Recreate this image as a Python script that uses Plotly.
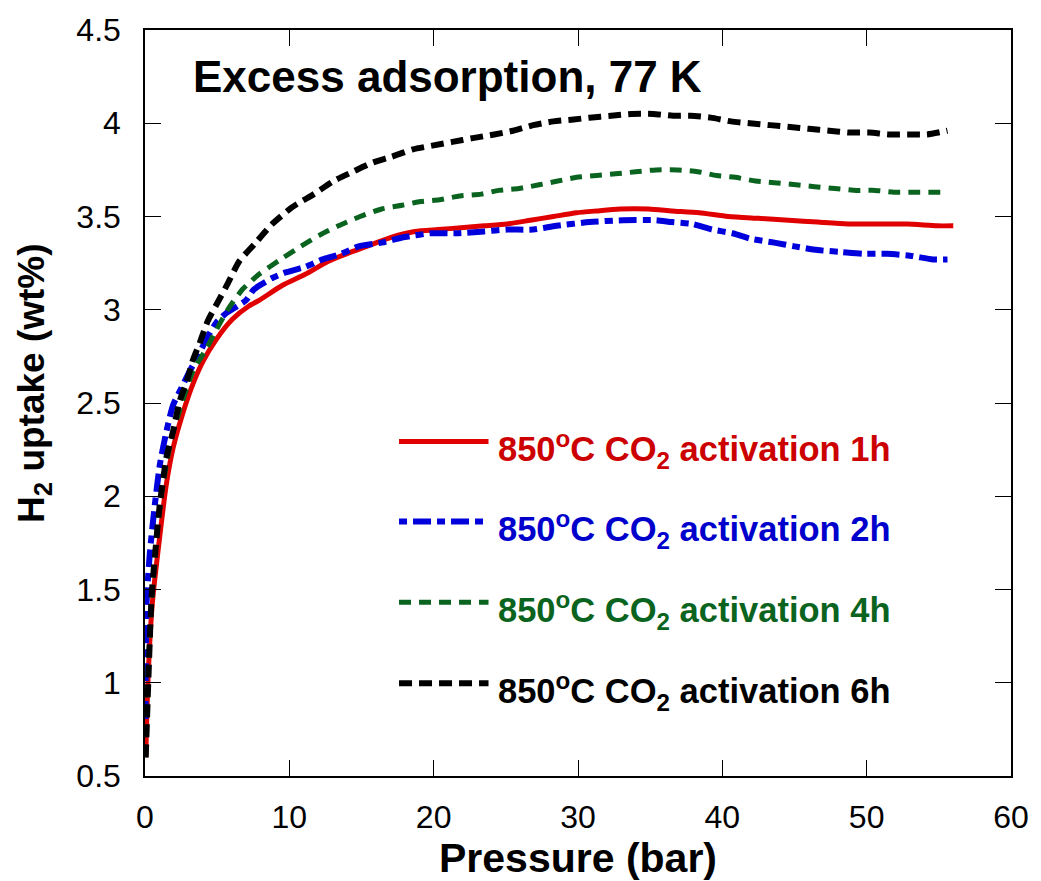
import plotly.graph_objects as go

# ---- data ----
x_1h = [0.05, 0.2, 0.5, 1.03, 1.49, 1.95, 2.52, 3.21, 4.0, 4.93, 6.07, 7.2, 7.9, 9.5, 11.1, 12.7, 14.3, 15.7,
        17.1, 18.7, 20.3, 21.9, 23.5, 25.1, 26.7, 28.3, 29.9, 31.3, 32.9, 34.9, 36.5, 38.4, 40.4, 42.5, 44.6,
        46.6, 48.7, 50.7, 52.8, 54.9, 56.0]
y_1h = [0.6, 1.0, 1.42, 1.79, 2.07, 2.26, 2.42, 2.58, 2.72, 2.84, 2.95, 3.02, 3.05, 3.13, 3.19, 3.26, 3.31, 3.35,
        3.39, 3.42, 3.43, 3.44, 3.45, 3.46, 3.48, 3.50, 3.52, 3.53, 3.54, 3.54, 3.53, 3.52, 3.50, 3.49, 3.48,
        3.47, 3.46, 3.46, 3.46, 3.45, 3.45]

x_2h = [0.02, 0.05, 0.11, 0.34, 0.69, 1.03, 1.49, 1.95, 2.52, 3.09, 3.66, 4.24, 4.93, 5.6, 6.99, 7.56, 8.82, 9.74,
        11.1, 12.3, 13.6, 14.8, 16.4, 18.0, 19.8, 21.6, 23.5, 25.1, 26.9, 28.5, 30.8, 33.1, 35.4, 36.5, 37.9,
        39.3, 40.7, 42.0, 43.6, 45.0, 46.6, 48.2, 49.8, 51.4, 53.0, 54.6, 55.6]
y_2h = [0.73, 1.08, 1.43, 1.70, 1.96, 2.17, 2.35, 2.49, 2.58, 2.67, 2.75, 2.84, 2.93, 2.98, 3.05, 3.11, 3.17, 3.20,
        3.23, 3.27, 3.30, 3.34, 3.36, 3.39, 3.41, 3.41, 3.42, 3.43, 3.43, 3.45, 3.47, 3.48, 3.48, 3.47, 3.46,
        3.43, 3.41, 3.38, 3.36, 3.34, 3.32, 3.31, 3.30, 3.30, 3.29, 3.27, 3.27]

x_4h = [0.03, 0.23, 0.46, 0.8, 1.26, 1.83, 2.52, 3.32, 4.24, 4.93, 5.73, 6.76, 7.9, 9.4, 10.8, 12.1, 13.4, 14.9,
        16.4, 17.8, 19.1, 20.4, 21.8, 23.3, 24.5, 25.9, 27.3, 28.6, 29.9, 31.3, 32.8, 34.0, 35.4, 36.9, 38.3,
        39.6, 40.9, 42.3, 43.8, 45.1, 46.4, 47.8, 49.3, 50.6, 51.9, 53.3, 54.6, 55.1]
y_4h = [0.6, 1.08, 1.43, 1.79, 2.07, 2.31, 2.49, 2.67, 2.79, 2.89, 3.0, 3.11, 3.19, 3.27, 3.34, 3.40, 3.45, 3.50,
        3.54, 3.56, 3.58, 3.59, 3.61, 3.62, 3.64, 3.65, 3.67, 3.69, 3.71, 3.72, 3.73, 3.74, 3.75, 3.75, 3.74,
        3.72, 3.71, 3.69, 3.68, 3.67, 3.66, 3.65, 3.64, 3.64, 3.63, 3.63, 3.63, 3.63]

x_6h = [0.05, 0.23, 0.46, 0.69, 1.03, 1.49, 1.95, 2.4, 2.87, 3.32, 3.78, 4.35, 5.04, 5.73, 6.53, 7.68, 8.82, 10.2,
        11.7, 13.06, 14.4, 15.8, 17.07, 18.56, 19.9, 21.3, 22.7, 24.2, 25.5, 26.9, 28.3, 29.7, 30.8, 32.3, 33.7,
        35.2, 36.6, 37.8, 39.2, 40.6, 41.9, 43.3, 44.7, 46.0, 47.4, 48.8, 50.2, 51.5, 52.9, 54.2, 55.6]
y_6h = [0.60, 1.01, 1.47, 1.68, 1.96, 2.21, 2.35, 2.51, 2.61, 2.73, 2.82, 2.94, 3.04, 3.14, 3.26, 3.36, 3.46, 3.55,
        3.62, 3.69, 3.74, 3.79, 3.82, 3.86, 3.88, 3.90, 3.92, 3.94, 3.96, 3.99, 4.01, 4.02, 4.03, 4.04, 4.05,
        4.05, 4.04, 4.04, 4.03, 4.01, 4.00, 3.99, 3.98, 3.97, 3.96, 3.95, 3.95, 3.94, 3.94, 3.94, 3.96]

labels = ["850<sup>o</sup>C CO<sub>2</sub> activation 1h",
          "850<sup>o</sup>C CO<sub>2</sub> activation 2h",
          "850<sup>o</sup>C CO<sub>2</sub> activation 4h",
          "850<sup>o</sup>C CO<sub>2</sub> activation 6h"]

x_ticks = [0, 10, 20, 30, 40, 50, 60]
y_ticks = [0.5, 1, 1.5, 2, 2.5, 3, 3.5, 4, 4.5]
y_tick_text = ["0.5", "1", "1.5", "2", "2.5", "3", "3.5", "4", "4.5"]

# ---- styles ----
FONT = "Liberation Sans, Arial, sans-serif"
line_colors = ["#e00000", "#0000dd", "#0a6420", "#000000"]
text_colors = ["#cc0000", "#0000cc", "#0a6420", "#000000"]
dashes = ["solid", "8px,6px,18px,6px", "12px,8px", "13px,7px"]
widths = [5, 6, 5, 6]

series = [(x_1h, y_1h), (x_2h, y_2h), (x_4h, y_4h), (x_6h, y_6h)]

fig = go.Figure()
for (xs, ys), c, d, w, name in zip(series, line_colors, dashes, widths, labels):
    fig.add_trace(go.Scatter(x=xs, y=ys, mode="lines", name=name, showlegend=False,
                             line=dict(color=c, dash=d, width=w, shape="spline", smoothing=0.6)))

# custom legend (line samples + labels) in data coordinates
leg_y = [2.294, 1.865, 1.431, 0.997]
leg_x0, leg_x1, leg_tx = 17.6, 23.8, 24.3
for i in range(4):
    fig.add_shape(type="line", xref="x", yref="y", x0=leg_x0, x1=leg_x1, y0=leg_y[i], y1=leg_y[i],
                  line=dict(color=line_colors[i], width=widths[i], dash=dashes[i]))
    fig.add_annotation(x=leg_tx, y=leg_y[i] - 0.045, xref="x", yref="y", xanchor="left", yanchor="middle",
                       text=labels[i], showarrow=False,
                       font=dict(family=FONT, size=34.5, color=text_colors[i], weight="bold"))

fig.add_annotation(x=3.2, y=4.25, xref="x", yref="y", xanchor="left", yanchor="middle",
                   text="Excess adsorption, 77 K", showarrow=False,
                   font=dict(family=FONT, size=44, color="black", weight="bold"))

# y-axis title as a rotated annotation (centered where the reference has it)
fig.add_annotation(x=-0.128, y=0.527, xref="paper", yref="paper", xanchor="center", yanchor="middle",
                   text="H<sub>2</sub> uptake (wt%)", textangle=-90, showarrow=False,
                   font=dict(family=FONT, size=37, color="black", weight="bold"))

axis_common = dict(showgrid=False, zeroline=False, showline=True, linecolor="black", linewidth=1.5,
                   mirror="ticks", ticks="inside", ticklen=16, tickwidth=1.3, tickcolor="black",
                   tickfont=dict(family=FONT, size=32, color="black"))

fig.update_xaxes(range=[0, 60], tickvals=x_ticks, ticklabelstandoff=12,
                 title=dict(text="Pressure (bar)", standoff=2,
                            font=dict(family=FONT, size=41, color="black", weight="bold")),
                 **axis_common)
fig.update_yaxes(range=[0.5, 4.5], tickvals=y_ticks, ticktext=y_tick_text, ticklabelstandoff=16,
                 **axis_common)

fig.update_layout(width=1041, height=881, margin=dict(l=145, r=22, t=20, b=105),
                  paper_bgcolor="white", plot_bgcolor="white", showlegend=False)

fig.write_html("out.html")
